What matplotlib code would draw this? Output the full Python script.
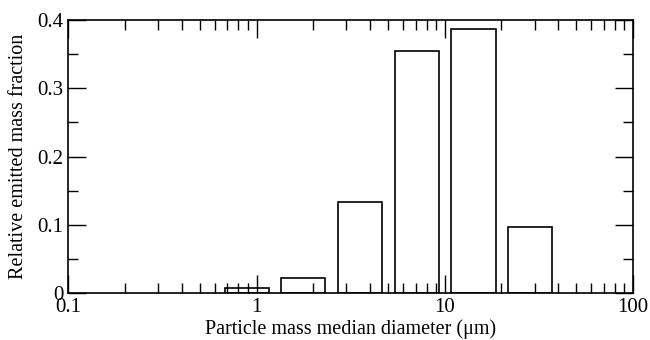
import numpy as np
import matplotlib.pyplot as plt
from matplotlib.ticker import LogLocator, MultipleLocator, FixedLocator

# Bin centres (um) and relative emitted mass fraction
diameters = [0.887, 1.77, 3.55, 7.10, 14.2, 28.4]
fractions = [0.007, 0.022, 0.133, 0.355, 0.387, 0.097]
x_ticks = [0.1, 1, 10, 100]
x_labels = ['0.1', '1', '10', '100']
y_ticks = [0, 0.1, 0.2, 0.3, 0.4]
y_labels = ['0', '0.1', '0.2', '0.3', '0.4']

plt.rcParams['font.family'] = ['Liberation Serif', 'DejaVu Serif']

fig = plt.figure(figsize=(6.5, 3.4), dpi=100)
ax = fig.add_axes([0.105, 0.138, 0.869, 0.803])

half = 10 ** 0.118  # half-width of each bar in log space
d = np.array(diameters)
left = d / half
right = d * half
ax.bar(left, fractions, width=right - left, align='edge',
       facecolor='white', edgecolor='black', linewidth=1.2)

ax.set_xscale('log')
ax.set_xlim(0.1, 100)
ax.set_ylim(0, 0.4)

ax.xaxis.set_major_locator(FixedLocator(x_ticks))
ax.set_xticklabels(x_labels)
ax.xaxis.set_minor_locator(LogLocator(base=10, subs=np.arange(2, 10)))
ax.set_yticks(y_ticks)
ax.set_yticklabels(y_labels)
ax.yaxis.set_minor_locator(MultipleLocator(0.05))

ax.tick_params(which='both', direction='in', top=True, right=True,
               labelsize=15, width=1.0)
ax.tick_params(which='major', length=13)
ax.tick_params(which='minor', length=7)
for s in ax.spines.values():
    s.set_linewidth(1.2)

ax.set_xlabel('Particle mass median diameter (μm)', fontsize=14.5, labelpad=2)
ax.set_ylabel('Relative emitted mass fraction', fontsize=14.5, labelpad=7)

fig.savefig('out.png', dpi=100)
